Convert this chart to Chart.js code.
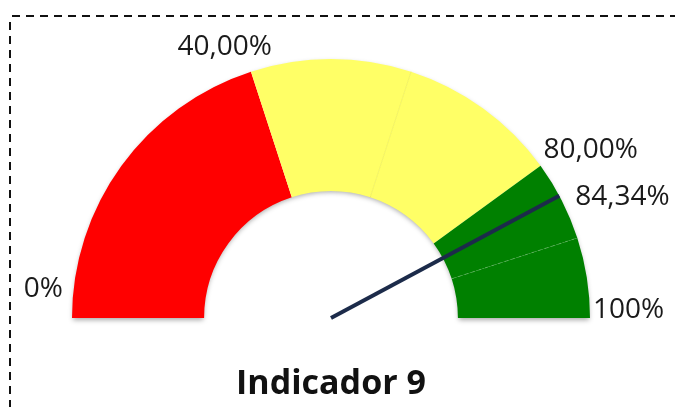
<!DOCTYPE html>
<html>
<head>
<meta charset="utf-8">
<script src="https://cdn.jsdelivr.net/npm/chart.js@4.4.0/dist/chart.umd.min.js"></script>
<style>
    body { margin: 0; background: #fff; }
</style>
</head>
<body>
<canvas id="myChart" width="675" height="407"></canvas>
<script>
let bandValues = [40, 20, 20, 10, 10];
let bandColors = ['#ff0000', '#ffff66', '#ffff66', '#008000', '#008000'];
let tickValues = [0, 40, 80, 100];
let tickLabels = ['0%', '40,00%', '80,00%', '100%'];
let indicatorValue = 84.34;
let indicatorLabel = '84,34%';
let titleText = 'Indicador 9';

// where each label sits relative to the outer edge at its value
let labelPlacement = [
    { align: 'right', dx: -9, dy: -29 },
    { align: 'right', dx: 21, dy: -25 },
    { align: 'left', dx: 3, dy: -16 },
    { align: 'left', dx: 3, dy: -8 }
];
let needlePlacement = { align: 'left', dx: 16, dy: 1 };


function gaugeGeometry(chart) {
    let arc = chart.getDatasetMeta(0).data[0];
    return { cx: arc.x, cy: arc.y, R: arc.outerRadius, r: arc.innerRadius };
}

function angleFor(v) {
    return Math.PI + v / 100 * Math.PI;
}

let gaugeExtras = {
    id: 'gaugeExtras',
    beforeDraw(chart) {
        // dashed frame round the chart
        let ctx = chart.ctx;
        ctx.save();
        ctx.strokeStyle = '#111';
        ctx.lineWidth = 2;
        ctx.setLineDash([8, 6]);
        ctx.beginPath();
        ctx.moveTo(12, 16);
        ctx.lineTo(675, 16);
        ctx.moveTo(10, 22);
        ctx.lineTo(10, 407);
        ctx.stroke();
        ctx.restore();
    },
    beforeDatasetsDraw(chart) {
        let g = gaugeGeometry(chart);
        let ctx = chart.ctx;
        ctx.save();
        ctx.shadowColor = 'rgba(0,0,0,0.35)';
        ctx.shadowBlur = 5;
        ctx.shadowOffsetY = 2;
        ctx.fillStyle = '#fff';
        ctx.beginPath();
        ctx.arc(g.cx, g.cy, g.R - 1, Math.PI, 2 * Math.PI);
        ctx.arc(g.cx, g.cy, g.r + 1, 2 * Math.PI, Math.PI, true);
        ctx.closePath();
        ctx.fill();
        ctx.restore();
    },
    afterDatasetsDraw(chart) {
        let g = gaugeGeometry(chart);
        let ctx = chart.ctx;

        // faint dividers between bands of the same colour
        let sum = 0;
        ctx.save();
        for (let i = 0; i < bandValues.length - 1; i++) {
            sum += bandValues[i];
            if (bandColors[i] !== bandColors[i + 1]) continue;
            let a = angleFor(sum);
            ctx.strokeStyle = bandColors[i] === '#008000' ? 'rgba(120,190,120,0.55)' : 'rgba(235,235,80,0.6)';
            ctx.lineWidth = 1;
            ctx.setLineDash(bandColors[i] === '#008000' ? [3, 4] : []);
            ctx.beginPath();
            ctx.moveTo(g.cx + g.r * Math.cos(a), g.cy + g.r * Math.sin(a));
            ctx.lineTo(g.cx + g.R * Math.cos(a), g.cy + g.R * Math.sin(a));
            ctx.stroke();
        }
        ctx.restore();

        // needle
        let na = angleFor(indicatorValue);
        ctx.save();
        ctx.strokeStyle = '#1c2b4a';
        ctx.lineWidth = 4;
        ctx.beginPath();
        ctx.moveTo(g.cx, g.cy);
        ctx.lineTo(g.cx + g.R * Math.cos(na), g.cy + g.R * Math.sin(na));
        ctx.stroke();
        ctx.restore();

        // labels
        ctx.save();
        ctx.font = '28px "Open Sans"';
        ctx.fillStyle = '#1a1a1a';
        ctx.textBaseline = 'middle';
        for (let i = 0; i < tickValues.length; i++) {
            let a = angleFor(tickValues[i]);
            let p = labelPlacement[i];
            ctx.textAlign = p.align;
            ctx.fillText(tickLabels[i], g.cx + g.R * Math.cos(a) + p.dx, g.cy + g.R * Math.sin(a) + p.dy);
        }
        ctx.textAlign = needlePlacement.align;
        ctx.fillText(indicatorLabel, g.cx + g.R * Math.cos(na) + needlePlacement.dx, g.cy + g.R * Math.sin(na) + needlePlacement.dy);
        ctx.restore();
    }
};

const ctx = document.getElementById('myChart');

new Chart(ctx, {
    type: 'doughnut',
    data: {
        labels: ['0-40', '40-60', '60-80', '80-90', '90-100'],
        datasets: [{
            data: bandValues,
            backgroundColor: bandColors,
            borderWidth: 0,
            hoverOffset: 0
        }]
    },
    options: {
        responsive: false,
        animation: false,
        rotation: -90,
        circumference: 180,
        cutout: '49%',
        events: [],
        layout: {
            padding: { left: 72, right: 85, top: 59, bottom: 0 }
        },
        plugins: {
            legend: { display: false },
            tooltip: { enabled: false },
            title: {
                display: true,
                position: 'bottom',
                text: titleText,
                color: '#111',
                font: { family: 'Open Sans', size: 34, weight: 'bold', lineHeight: 1.2 },
                padding: { top: 46, bottom: 2.2 }
            }
        }
    },
    plugins: [gaugeExtras]
});
</script>
</body>
</html>
